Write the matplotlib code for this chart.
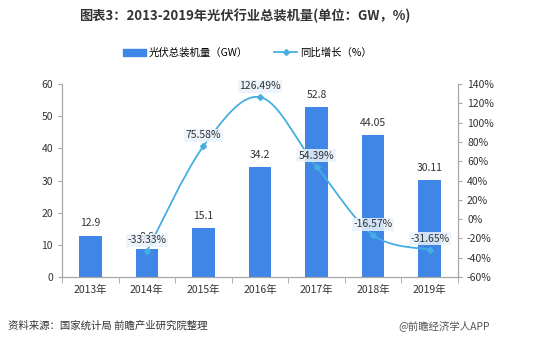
import numpy as np
import matplotlib
matplotlib.use('Agg')
import matplotlib.pyplot as plt
from matplotlib.path import Path
from matplotlib.patches import PathPatch
from matplotlib.lines import Line2D
from matplotlib.patches import Patch

plt.rcParams['font.family'] = ['Noto Sans CJK SC', 'DejaVu Sans']

# data
years = ['2013年', '2014年', '2015年', '2016年', '2017年', '2018年', '2019年']
capacity = [12.9, 8.6, 15.1, 34.2, 52.8, 44.05, 30.11]
growth = [None, -33.33, 75.58, 126.49, 54.39, -16.57, -31.65]

bar_color = '#3f86e6'
line_color = '#45aee3'
axis_color = '#a6a6a6'

fig = plt.figure(figsize=(5.5, 3.52), dpi=100)
ax = fig.add_axes([0.1127, 0.2131, 0.72, 0.548])
ax2 = ax.twinx()

x = np.arange(len(years))
ax.bar(x, capacity, width=0.4, color=bar_color, zorder=2)
for xi, v in zip(x, capacity):
    ax.text(xi, v + 2.2, f'{v:g}', ha='center', va='bottom', fontsize=7.5, color='#333333')

ax.set_xlim(-0.5, len(years) - 0.5)
ax.set_ylim(0, 60)
ax.set_yticks(range(0, 61, 10))
ax.set_xticks(x)
ax.set_xticklabels(years, fontsize=7.5, color='#333333')
ax.set_xticks(np.arange(-0.5, len(years)), minor=True)
ax.tick_params(axis='x', which='major', length=0, pad=6)
ax.tick_params(axis='x', which='minor', length=4, color=axis_color)
ax.tick_params(axis='y', labelsize=7.5, labelcolor='#333333', length=3, color=axis_color)

ax2.set_ylim(-60, 140)
ax2.set_yticks(range(-60, 141, 20))
ax2.set_yticklabels([f'{t}%' for t in range(-60, 141, 20)])
ax2.tick_params(axis='y', labelsize=7.5, labelcolor='#333333', length=3, color=axis_color)

for a in (ax, ax2):
    a.spines['top'].set_visible(False)
    a.spines['left'].set_color(axis_color)
    a.spines['right'].set_color(axis_color)
    a.spines['bottom'].set_color(axis_color)

# smoothed growth line (Catmull-Rom through the points)
gx = [xi for xi, g in zip(x, growth) if g is not None]
gy = [g for g in growth if g is not None]
pts = np.column_stack([gx, gy]).astype(float)
verts = [tuple(pts[0])]
codes = [Path.MOVETO]
n = len(pts)
for i in range(n - 1):
    p0 = pts[i - 1] if i > 0 else pts[i]
    p1 = pts[i]
    p2 = pts[i + 1]
    p3 = pts[i + 2] if i + 2 < n else pts[i + 1]
    c1 = p1 + (p2 - p0) / 6.0
    c2 = p2 - (p3 - p1) / 6.0
    verts += [tuple(c1), tuple(c2), tuple(p2)]
    codes += [Path.CURVE4] * 3
ax2.add_patch(PathPatch(Path(verts, codes), facecolor='none', edgecolor=line_color, lw=1.3, zorder=3))
ax2.plot(gx, gy, linestyle='none', marker='D', markersize=3, color=line_color, zorder=4)
for xi, g in zip(gx, gy):
    ax2.text(xi, g + 6, f'{g:.2f}%', ha='center', va='bottom', fontsize=7.5, color='#333333',
             bbox=dict(boxstyle='square,pad=0.15', fc='#eaf3fb', ec='none', alpha=0.85), zorder=5)

# title, legend, footer
fig.text(0.445, 0.955, '图表3：2013-2019年光伏行业总装机量(单位：GW，%)', ha='center', va='center',
         fontsize=9.5, fontweight='bold', color='#333333')
handles = [Patch(color=bar_color, label='光伏总装机量（GW）'),
           Line2D([0], [0], color=line_color, marker='D', markersize=3, lw=1.3, label='同比增长（%）')]
fig.legend(handles=handles, loc='center', bbox_to_anchor=(0.45, 0.85), ncol=2, frameon=False,
           fontsize=7.5, handlelength=2.2, handleheight=0.6, columnspacing=2.5, handletextpad=0.3)
fig.text(0.015, 0.075, '资料来源：国家统计局 前瞻产业研究院整理', ha='left', va='center', fontsize=7.5, color='#333333')
fig.text(0.89, 0.075, '@前瞻经济学人APP', ha='right', va='center', fontsize=7.5, color='#555555')

fig.savefig('out.png', dpi=100, facecolor='white')
